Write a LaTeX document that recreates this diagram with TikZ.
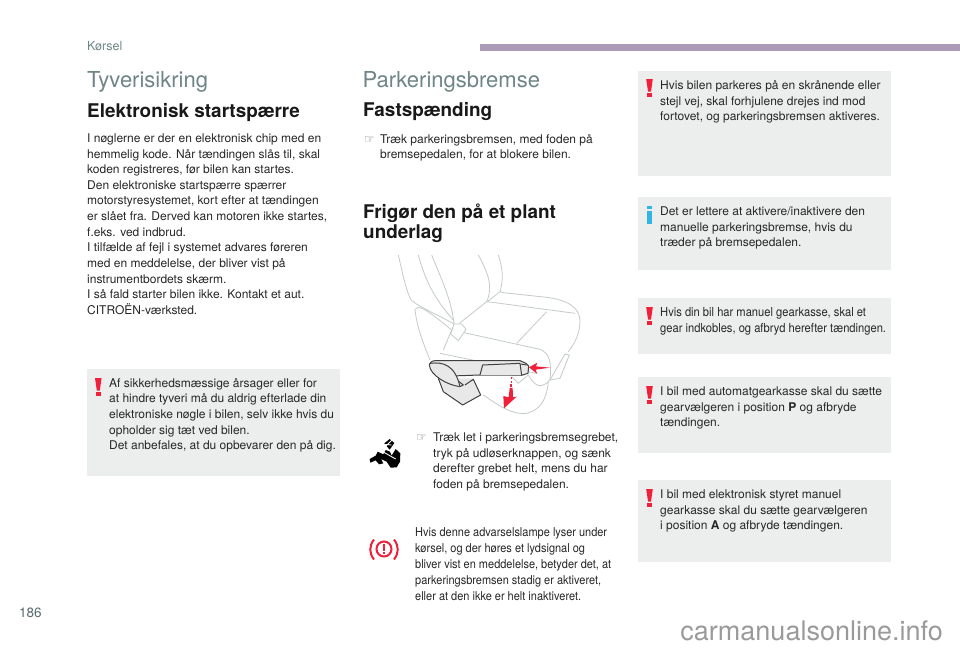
\documentclass[tikz,border=0pt]{standalone}
\usepackage{fontspec}
\setmainfont{TeX Gyre Heros}
\newfontfamily\narrowfont[FakeStretch=0.9]{TeX Gyre Heros}
\newfontfamily\symbfont{DejaVu Sans}
\usetikzlibrary{positioning}
\definecolor{boxgray}{HTML}{ECEEEE}
\definecolor{titlegray}{HTML}{6F8586}
\definecolor{barviolet}{HTML}{AB9BB6}
\definecolor{warnred}{HTML}{F0203A}
\definecolor{infoblue}{HTML}{2FB4E4}
\definecolor{seatgray}{HTML}{C4CBC9}
\definecolor{linkgray}{HTML}{9A9A9A}
\tikzset{
  notebox/.style={fill=boxgray,draw=none},
  maintitle/.style={anchor=base west,inner sep=0pt,text=titlegray,font=\fontsize{22}{26}\selectfont},
  subtitle/.style={anchor=base west,inner sep=0pt,align=left,text=black!90,font=\bfseries\fontsize{18.9}{20.5}\selectfont},
  bodytext/.style={anchor=north west,inner sep=0pt,align=left,text=black!85,font=\fontsize{12}{15.62}\selectfont},
  narrowtext/.style={anchor=north west,inner sep=0pt,align=left,text=black!85,font=\narrowfont\fontsize{12.2}{16}\selectfont},
  handmark/.style={anchor=base west,inner sep=0pt,text=black!55,font=\symbfont\fontsize{12}{14}\selectfont},
  seatline/.style={draw=seatgray,line width=0.8pt},
  leverline/.style={draw=black!75,fill=black!9,line width=1pt,line join=round},
  lampline/.style={draw=warnred,line width=2pt},
}
\newcommand{\warnmark}[2]{%
  \fill[warnred] (#1-3.3,#2) -- (#1+3.3,#2) -- (#1+1.5,#2+12.5) -- (#1-1.5,#2+12.5) -- cycle;
  \fill[warnred] (#1-2.2,#2+14.3) rectangle (#1+2.2,#2+17.6);
}
\begin{document}
\begin{tikzpicture}[x=1pt,y=-1pt]
\useasboundingbox (0,0) rectangle (960,649);
\fill[white] (0,0) rectangle (960,649);
% header
\node[anchor=base west,inner sep=0pt,text=titlegray,font=\fontsize{12.5}{15}\selectfont] (header) at (87,50) {Kørsel};
\fill[barviolet] (480,44) rectangle (960,51);
% grey boxes
\fill[notebox] (87,369) rectangle (340,476);
\fill[notebox] (638,71) rectangle (891,176);
\fill[notebox] (638,197) rectangle (891,270);
\fill[notebox] (638,298) rectangle (891,354);
\fill[notebox] (638,377) rectangle (891,453);
\fill[notebox] (638,480) rectangle (891,562);
% left column
\node[maintitle] (tyveri) at (87,87) {Tyverisikring};
\node[subtitle] (elektronisk) at (87,117) {Elektronisk startspærre};
\node[bodytext] (noegle) at (87,133.5) {I nøglerne er der en elektronisk chip med en\\
hemmelig kode. Når tændingen slås til, skal\\
koden registreres, før bilen kan startes.\\
Den elektroniske startspærre spærrer\\
motorstyresystemet, kort efter at tændingen\\
er slået fra. Derved kan motoren ikke startes,\\
f.eks. ved indbrud.\\
I tilfælde af fejl i systemet advares føreren\\
med en meddelelse, der bliver vist på\\
instrumentbordets skærm.\\
I så fald starter bilen ikke. Kontakt et aut.\\
CITROËN-værksted.};
\warnmark{98.3}{378}
\node[bodytext] (sikkerhed) at (109,378) {Af sikkerhedsmæssige årsager eller for\\
at hindre tyveri må du aldrig efterlade din\\
elektroniske nøgle i bilen, selv ikke hvis du\\
opholder sig tæt ved bilen.\\
Det anbefales, at du opbevarer den på dig.};
% middle column
\node[maintitle] (parkering) at (362.5,87) {Parkeringsbremse};
\node[subtitle] (fastspaending) at (363,116) {Fastspænding};
\node[handmark] (hand1) at (364,143) {☞};
\node[bodytext] (traek) at (380,134) {Træk parkeringsbremsen, med foden på\\
bremsepedalen, for at blokere bilen.};
\node[subtitle] (frigoer) at (363,238.5) {Frigør den på et plant\\underlag};
% seat drawing, coordinates as in a 3x crop
\begin{scope}[shift={(380,250)},x=0.3333pt,y=-0.3333pt]
\draw[seatline] (55,15) .. controls (70,80) and (80,130) .. (95,152) .. controls (125,175) and (175,195) .. (222,222);
\draw[seatline] (115,15) .. controls (135,90) and (165,150) .. (222,212);
\draw[seatline] (155,15) .. controls (185,90) and (215,150) .. (222,222);
\draw[seatline] (295,15) .. controls (325,70) and (340,110) .. (320,155) -- (238,220);
\draw[seatline] (355,15) .. controls (370,60) and (370,90) .. (360,125) -- (370,128) -- (500,142) .. controls (560,150) and (600,170) .. (600,215) .. controls (600,255) and (580,285) .. (565,305);
\draw[seatline] (360,125) -- (322,155) -- (585,190);
\draw[seatline] (500,185) -- (410,280);
\draw[seatline] (252,248) -- (480,298) .. controls (510,310) and (515,340) .. (510,390) .. controls (490,410) and (470,420) .. (445,375);
\draw[seatline] (105,178) .. controls (115,165) and (130,170) .. (215,240) -- (190,300);
\draw[seatline] (105,178) .. controls (110,230) and (130,280) .. (150,330);
\draw[seatline] (222,222) -- (245,222) -- (258,238) -- (235,272) -- (212,252) -- cycle;
\draw[seatline] (180,310) -- (470,370);
\draw[seatline] (510,390) -- (555,312) -- (568,315) -- (540,385) -- cycle;
\draw[seatline] (310,435) .. controls (360,470) and (400,495) .. (440,490) .. controls (480,480) and (500,450) .. (505,395);
\draw[seatline] (395,380) -- (415,400) -- (445,375);
% lever
\fill[black!10] (175,385) -- (190,425) -- (248,465) -- (302,435) -- (280,385) -- cycle;
\draw[leverline] (175,385) -- (190,425) -- (248,465) -- (302,435) -- (280,388) -- (255,405);
\draw[leverline] (148,345) .. controls (150,335) and (160,330) .. (175,332) -- (420,332) -- (438,340) -- (446,348) -- (444,370) -- (425,376) -- (300,375) -- (215,378) -- (250,405) -- (240,410) .. controls (200,405) and (150,375) .. (148,345) -- cycle;
\draw[leverline] (300,375) -- (308,345) -- (420,340) -- (425,376);
\draw[leverline] (150,340) .. controls (190,335) and (225,345) .. (240,410);
\draw[leverline] (422,342) -- (440,345);
% red arrows
\fill[warnred] (447,352) -- (472,338) -- (468,349) -- (510,353) -- (467,359) -- (472,372) -- cycle;
\fill[warnred] (393,382) rectangle (397,388);
\fill[warnred] (392,392) rectangle (397,399);
\fill[warnred] (391,403) rectangle (397,410);
\fill[warnred] (389,414) -- (398,414) -- (399,442) -- (410,440) -- (372,475) -- (370,438) -- (386,442) -- cycle;
\end{scope}
% pictogram of the lever
\begin{scope}[shift={(355,435)},x=0.3333pt,y=-0.3333pt]
\fill[black] (44,72) -- (62,62) -- (68,50) -- (85,58) -- (92,45) -- (105,50) -- (110,62) -- (122,42) -- (136,55) -- (135,80) -- (125,97) -- (107,98) -- (95,80) -- (78,72) -- (85,85) -- (72,88) -- (62,76) -- (46,83) -- cycle;
\fill[black] (88,25) -- (104,12) -- (118,24) -- (104,44) -- cycle;
\draw[white,line width=0.8pt] (92,34) -- (110,16) (88,28) -- (110,30);
\draw[white,line width=0.9pt] (78,47) -- (122,72);
\end{scope}
\node[handmark] (hand2) at (416,441) {☞};
\node[bodytext] (traeklet) at (433,432.5) {Træk let i parkeringsbremsegrebet,\\
tryk på udløserknappen, og sænk\\
derefter grebet helt, mens du har\\
foden på bremsepedalen.};
% warning lamp
\draw[lampline] (384,549) circle (7.5);
\fill[warnred] (382.8,543.5) rectangle (385.2,550.7);
\fill[warnred] (382.8,552) rectangle (385.2,554.4);
\draw[lampline] (374,539.5) .. controls (369,546) and (369,553) .. (374,559.5);
\draw[lampline] (394,539.5) .. controls (399,546) and (399,553) .. (394,559.5);
\node[narrowtext] (advarsel) at (415,527) {Hvis denne advarselslampe lyser under\\
kørsel, og der høres et lydsignal og\\
bliver vist en meddelelse, betyder det, at\\
parkeringsbremsen stadig er aktiveret,\\
eller at den ikke er helt inaktiveret.};
% right column
\warnmark{649.5}{79}
\node[bodytext] (skraanende) at (660,80.5) {Hvis bilen parkeres på en skrånende eller\\
stejl vej, skal forhjulene drejes ind mod\\
fortovet, og parkeringsbremsen aktiveres.};
\fill[infoblue] (647,206) rectangle (652,209);
\fill[infoblue] (647,210.5) rectangle (652,223.5);
\node[bodytext] (lettere) at (660,206.5) {Det er lettere at aktivere/inaktivere den\\
manuelle parkeringsbremse, hvis du\\
træder på bremsepedalen.};
\warnmark{649.5}{307}
\node[narrowtext,font=\narrowfont\fontsize{12.4}{16}\selectfont] (manuel) at (660,307) {Hvis din bil har manuel gearkasse, skal et\\
gear indkobles, og afbryd herefter tændingen.};
\warnmark{649.5}{386}
\node[bodytext] (automat) at (660,386.5) {I bil med automatgearkasse skal du sætte\\
gearvælgeren i position \textbf{P} og afbryde\\
tændingen.};
\warnmark{649.5}{489}
\node[bodytext] (elektro) at (660,489.5) {I bil med elektronisk styret manuel\\
gearkasse skal du sætte gearvælgeren\\
i position \textbf{A} og afbryde tændingen.};
% footer
\node[anchor=base west,inner sep=0pt,text=titlegray!80!black,font=\fontsize{13.5}{15}\selectfont] (pagenum) at (19,617) {186};
\node[anchor=base east,inner sep=0pt,text=linkgray,font=\fontsize{27}{30}\selectfont] (website) at (943,640.7) {carmanualsonline.info};
\end{tikzpicture}
\end{document}
